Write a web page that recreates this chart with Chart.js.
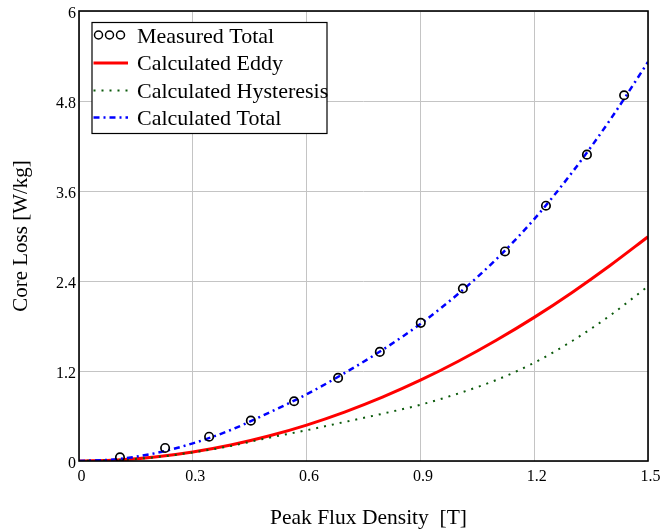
<!DOCTYPE html>
<html><head><meta charset="utf-8">
<script src="https://cdn.jsdelivr.net/npm/chart.js@4"></script>
<style>html,body{margin:0;padding:0;background:#fff}#wrap{width:660px;height:529px;position:relative}</style>
</head><body><div id="wrap"><canvas id="c" width="660" height="529"></canvas></div>
<script>
// ---- data ----
const fluxGrid   = [0, 0.1, 0.2, 0.3, 0.4, 0.5, 0.6, 0.7, 0.8, 0.9, 1.0, 1.1, 1.2, 1.3, 1.4, 1.5];
const eddyLoss   = [0, 0.013, 0.053, 0.12, 0.213, 0.333, 0.479, 0.652, 0.851, 1.077, 1.33, 1.61, 1.915, 2.248, 2.607, 2.99];
const hystLoss   = [0, 0.012, 0.05, 0.115, 0.2, 0.31, 0.41, 0.52, 0.63, 0.75, 0.90, 1.08, 1.31, 1.60, 1.94, 2.33];
const totalLoss  = [0, 0.025, 0.103, 0.235, 0.413, 0.643, 0.889, 1.172, 1.481, 1.827, 2.23, 2.69, 3.225, 3.848, 4.548, 5.32];
const measuredB    = [0.108, 0.227, 0.343, 0.453, 0.567, 0.683, 0.793, 0.901, 1.012, 1.123, 1.231, 1.339, 1.437];
const measuredLoss = [0.049, 0.174, 0.324, 0.538, 0.797, 1.108, 1.455, 1.842, 2.300, 2.794, 3.404, 4.085, 4.877];
const seriesNames  = ['Measured Total', 'Calculated Eddy', 'Calculated Hysteresis', 'Calculated Total'];
const xTicks      = [0, 0.3, 0.6, 0.9, 1.2, 1.5];
const xTickLabels = ['0', '0.3', '0.6', '0.9', '1.2', '1.5'];
const yTicks      = [0, 1.2, 2.4, 3.6, 4.8, 6];
const yTickLabels = ['0', '1.2', '2.4', '3.6', '4.8', '6'];
const xTitle = 'Peak Flux Density  [T]';
const yTitle = 'Core Loss [W/kg]';

const FONT = '"Liberation Serif", "Times New Roman", Times, serif';
const pts = (xs, ys) => xs.map((x, i) => ({x: x, y: ys[i]}));

const frameLegendTitles = {
  id: 'frameLegendTitles',
  afterDatasetsDraw(chart) {
    const ctx = chart.ctx, a = chart.chartArea;
    ctx.save();
    // plot frame
    ctx.strokeStyle = '#000';
    ctx.lineWidth = 1.6;
    ctx.setLineDash([]);
    ctx.strokeRect(a.left, a.top, a.right - a.left, a.bottom - a.top);
    // legend box
    const bx = a.left + 13, by = a.top + 11.5, bw = 235, bh = 111;
    ctx.fillStyle = '#fff';
    ctx.fillRect(bx, by, bw, bh);
    ctx.lineWidth = 1.2;
    ctx.strokeRect(bx, by, bw, bh);
    const symX0 = bx + 1.5, symX1 = bx + 36, textX = bx + 45;
    const symY = [by + 12.5, by + 40.5, by + 68, by + 95];
    const baseY = [by + 20, by + 47.5, by + 75, by + 102];
    chart.data.datasets.forEach((ds, i) => {
      ctx.save();
      if (i === 0) {
        ctx.strokeStyle = ds.pointBorderColor;
        ctx.lineWidth = 1.5;
        for (let k = 0; k < 3; k++) {
          ctx.beginPath();
          ctx.arc(symX0 + 5 + k * 11, symY[i], 4, 0, Math.PI * 2);
          ctx.stroke();
        }
      } else {
        ctx.strokeStyle = ds.borderColor;
        ctx.lineWidth = ds.borderWidth;
        ctx.setLineDash(ds.borderDash || []);
        ctx.beginPath();
        ctx.moveTo(symX0, symY[i]);
        ctx.lineTo(symX1, symY[i]);
        ctx.stroke();
      }
      ctx.restore();
      ctx.fillStyle = '#000';
      ctx.font = '22px ' + FONT;
      ctx.textBaseline = 'alphabetic';
      ctx.textAlign = 'left';
      ctx.fillText(ds.label, textX, baseY[i]);
    });
    // axis titles
    ctx.fillStyle = '#000';
    ctx.font = '21.5px ' + FONT;
    ctx.textAlign = 'center';
    ctx.textBaseline = 'alphabetic';
    ctx.fillText(xTitle, (a.left + a.right) / 2 + 5, 523.5);
    ctx.save();
    ctx.translate(27, (a.top + a.bottom) / 2);
    ctx.rotate(-Math.PI / 2);
    ctx.font = '21px ' + FONT;
    ctx.fillText(yTitle, 0, 0);
    ctx.restore();
    ctx.restore();
  }
};

new Chart(document.getElementById('c'), {
  type: 'line',
  data: {
    datasets: [
      { label: seriesNames[0], data: pts(measuredB, measuredLoss), showLine: false,
        pointRadius: 4.2, pointHoverRadius: 4.2, pointBorderWidth: 1.7,
        pointBorderColor: '#000', pointBackgroundColor: 'rgba(0,0,0,0)', order: 0 },
      { label: seriesNames[1], data: pts(fluxGrid, eddyLoss), borderColor: '#ff0000',
        borderWidth: 3, pointRadius: 0, cubicInterpolationMode: 'monotone', fill: false, order: 3 },
      { label: seriesNames[2], data: pts(fluxGrid, hystLoss), borderColor: '#0b5a0b',
        borderWidth: 2, borderDash: [2, 6], pointRadius: 0, cubicInterpolationMode: 'monotone', fill: false, order: 2 },
      { label: seriesNames[3], data: pts(fluxGrid, totalLoss), borderColor: '#0000ff',
        borderWidth: 2.5, borderDash: [6, 4, 2, 4], pointRadius: 0, cubicInterpolationMode: 'monotone', fill: false, order: 1 }
    ]
  },
  options: {
    responsive: false,
    animation: false,
    devicePixelRatio: 1,
    events: [],
    layout: { padding: { left: 0, right: 12, top: 11, bottom: 0 } },
    plugins: { legend: { display: false }, tooltip: { enabled: false } },
    scales: {
      x: {
        type: 'linear', min: 0, max: 1.5,
        afterBuildTicks: s => { s.ticks = xTicks.map(v => ({ value: v })); },
        afterFit: s => { s.height = 68; s.paddingLeft = 0; s.paddingRight = 0; },
        grid: { color: '#c4c4c4', lineWidth: 1, drawTicks: false },
        border: { display: false },
        ticks: { color: '#000', padding: 6, labelOffset: 2.5, maxRotation: 0, autoSkip: false,
          font: { family: FONT, size: 16 },
          callback: (v, i) => xTickLabels[i] },
        title: { display: false }
      },
      y: {
        type: 'linear', min: 0, max: 6,
        afterBuildTicks: s => { s.ticks = yTicks.map(v => ({ value: v })); },
        afterFit: s => { s.width = 79; s.paddingTop = 0; s.paddingBottom = 0; },
        grid: { color: '#c4c4c4', lineWidth: 1, drawTicks: false },
        border: { display: false },
        ticks: { color: '#000', padding: 3, labelOffset: 2.5, autoSkip: false,
          font: { family: FONT, size: 16 },
          callback: (v, i) => yTickLabels[i] },
        title: { display: false }
      }
    }
  },
  plugins: [frameLegendTitles]
});
</script>
</body></html>
